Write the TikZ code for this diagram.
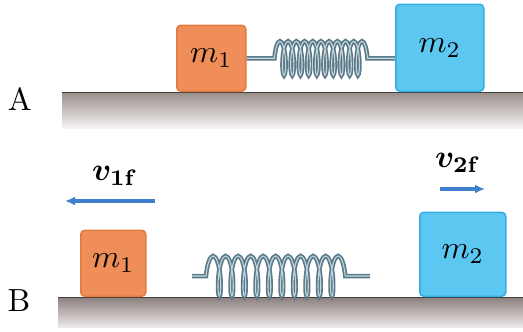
\documentclass[tikz,border=0pt]{standalone}
\usepackage{amsmath,bm}
\usetikzlibrary{arrows.meta,decorations.pathmorphing}
\definecolor{orangebloc}{HTML}{EF8E58}
\definecolor{orangebord}{HTML}{E27A3E}
\definecolor{bleubloc}{HTML}{5CC8F1}
\definecolor{bleubord}{HTML}{34ACE2}
\definecolor{ressortfonce}{HTML}{5A7A89}
\definecolor{ressortclair}{HTML}{C4D5DD}
\definecolor{soltop}{HTML}{9A8D89}
\definecolor{solbas}{HTML}{F6F4F4}
\definecolor{fleche}{HTML}{3F7FCB}
\newcommand{\grand}[1]{\scalebox{3.2}{#1}}
\tikzset{
  bloc/.style={line width=1.5pt, rounded corners=4pt, anchor=south west,
    inner sep=0pt},
  bloc1/.style={bloc, fill=orangebloc, draw=orangebord},
  bloc2/.style={bloc, fill=bleubloc, draw=bleubord},
  ressort/.style={draw=ressortfonce, line width=1.7pt, double=ressortclair,
    double distance=1.1pt, decorate},
  vitesse/.style={-{Latex[length=10pt,width=9pt]}, draw=fleche, line width=3.5pt},
  etiquette/.style={inner sep=0pt}
}
\begin{document}
\begin{tikzpicture}[x=1pt,y=-1pt]
  \useasboundingbox (0,0) rectangle (523,332);
  % Situation A : ressort comprime entre les deux blocs
  \shade[top color=soltop, bottom color=solbas] (62,92) rectangle (523,128);
  \draw[line width=1pt, black!75] (62,92) -- (523,92);
  \node[etiquette] (lA) at (20,99) {\grand{A}};
  \node[bloc1, minimum width=69pt, minimum height=66pt] (m1A) at (176,92) {\grand{$m_1$}};
  \node[bloc2, minimum width=88pt, minimum height=87pt] (m2A) at (395,92) {\grand{$m_2$}};
  \draw[ressort, decoration={coil, amplitude=17pt, segment length=8.2pt, aspect=0.2,
      pre length=28pt, post length=26pt}] (m1A.east) -- (m1A.east -| m2A.west);
  % Situation B : apres la separation
  \shade[top color=soltop!90!black, bottom color=solbas!90!soltop] (58,297) rectangle (523,327);
  \draw[line width=1pt, black!75] (58,297) -- (523,297);
  \node[etiquette] (lB) at (19,301) {\grand{B}};
  \node[bloc1, minimum width=65pt, minimum height=66pt] (m1B) at (80,297) {\grand{$m_1$}};
  \node[bloc2, minimum width=86pt, minimum height=84pt] (m2B) at (419,297) {\grand{$m_2$}};
  \coordinate (sG) at (192,276);
  \coordinate (sD) at (370,276);
  \draw[ressort, decoration={coil, amplitude=20pt, segment length=12.5pt, aspect=0.2,
      pre length=14pt, post length=16pt}] (sG) -- (sD);
  \coordinate (v1d) at (155,201);
  \coordinate (v1a) at (65,201);
  \draw[vitesse] (v1d) -- (v1a);
  \node[etiquette] (v1) at (115,176) {\grand{$\bm{v}_{\mathbf{1f}}$}};
  \coordinate (v2d) at (440,189);
  \coordinate (v2a) at (485,189);
  \draw[vitesse] (v2d) -- (v2a);
  \node[etiquette] (v2) at (458,163) {\grand{$\bm{v}_{\mathbf{2f}}$}};
\end{tikzpicture}
\end{document}
